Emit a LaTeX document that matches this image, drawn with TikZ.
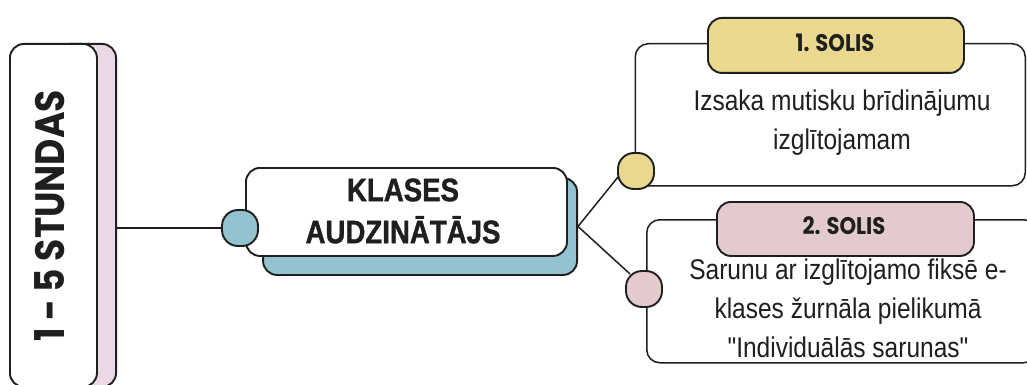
\documentclass[tikz,border=0pt]{standalone}
\usepackage{fontspec}
\usetikzlibrary{calc}
\setmainfont[FakeStretch=0.85,BoldFeatures={FakeBold=1.2}]{Liberation Sans}
\newfontfamily\plainbody[FakeStretch=0.86]{Liberation Sans}
\newfontfamily\handfont[FakeStretch=0.88]{Poppins}
\definecolor{ink}{HTML}{1F1F1F}
\definecolor{pinkback}{HTML}{EBD8E6}
\definecolor{bluefill}{HTML}{93C3CE}
\definecolor{yellowfill}{HTML}{E9D88E}
\definecolor{rosefill}{HTML}{E2CACD}
\tikzset{
  panel/.style={draw=ink,line width=1.5pt,rounded corners=13pt,fill=white,inner sep=0pt,minimum width=#1},
  heavy/.style={draw=ink,line width=1.9pt,rounded corners=14pt,inner sep=0pt,minimum width=#1},
  dot/.style={draw=ink,line width=1.9pt,fill=#1,rounded corners=16pt,minimum width=36pt,minimum height=36pt,inner sep=0pt},
  wire/.style={draw=ink,line width=1.5pt},
  bodytext/.style={text=ink,align=center,font=\plainbody\fontsize{28.5}{39}\selectfont},
  headtext/.style={text=ink,font=\handfont\bfseries\fontsize{24}{26}\selectfont},
}
\begin{document}
\begin{tikzpicture}[x=1pt,y=-1pt]
\useasboundingbox (0,0) rectangle (1027,385);
\fill[white] (0,0) rectangle (1027,385);
% left column
\node[heavy=60pt,minimum height=343pt,fill=pinkback,anchor=north east] (leftback) at (117,43) {};
\node[heavy=87pt,minimum height=343pt,fill=white,anchor=north west] (leftfront) at (9,43) {};
\node[rotate=90,text=ink,font=\handfont\bfseries\fontsize{41}{44}\selectfont] (lefttext) at (50,216) {1 - 5 STUNDAS};
% centre
\node[heavy=314pt,minimum height=97pt,fill=bluefill,anchor=north east] (midback) at (578,177) {};
\node[heavy=321pt,minimum height=88pt,fill=white,anchor=north west] (mid) at (245,167) {};
\node[align=center,text=ink,font=\bfseries\fontsize{32.5}{42}\selectfont] (midtext) at (403,211) {KLASES\\AUDZINĀTĀJS};
\node[dot=bluefill] (middot) at (240,228) {};
\draw[wire] (leftback.east |- middot) -- (middot.west);
% step 1
\node[panel=390pt,minimum height=142pt,anchor=north east] (oneback) at (1026,43) {};
\node[heavy=256pt,minimum height=55pt,fill=yellowfill,anchor=north west] (onehead) at (707,17) {};
\node[headtext] (onelabel) at (835,43) {1. SOLIS};
\node[bodytext] (onetext) at (842,123) {Izsaka mutisku brīdinājumu\\izglītojamam};
\node[dot=yellowfill] (onedot) at (636,171) {};
% step 2
\node[panel=390pt,minimum height=143pt,anchor=north west] (twoback) at (646,219) {};
\node[heavy=257pt,minimum height=54pt,fill=rosefill,anchor=north west] (twohead) at (716,201) {};
\node[headtext] (twolabel) at (844,226) {2. SOLIS};
\node[bodytext] (twotext) at (848,308) {Sarunu ar izglītojamo fiksē e-\\klases žurnāla pielikumā\\"Individuālās sarunas"};
\node[dot=rosefill] (twodot) at (644,289) {};
% connectors
\coordinate (fork) at (midback.east);
\draw[wire] (fork) -- ($(onedot.center)+(-18,6)$);
\draw[wire] (fork) -- ($(twodot.center)+(-14,-15)$);
\end{tikzpicture}
\end{document}
